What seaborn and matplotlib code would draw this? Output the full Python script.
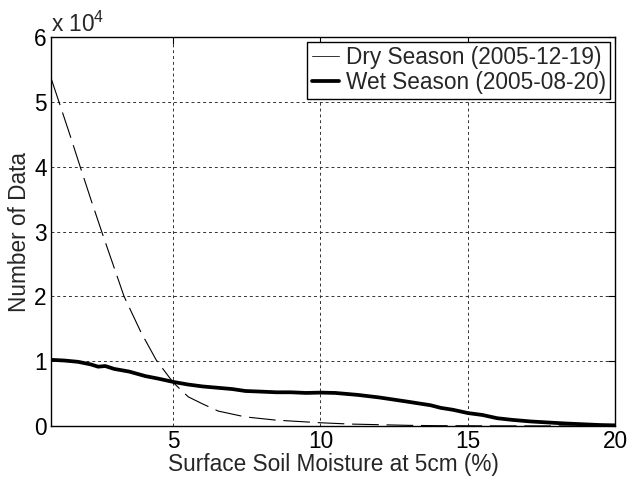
import matplotlib
matplotlib.use("Agg")
import matplotlib.pyplot as plt
from matplotlib.lines import Line2D
from matplotlib.ticker import FuncFormatter
import seaborn as sns
import pandas as pd

# ---- data ----
dry_x = [0.87, 1.12, 1.5, 1.84, 2.2, 2.57, 2.95, 3.33, 3.9, 4.42, 5.0, 5.51,
         6.0, 6.53, 7.45, 8.5, 10.0, 11.0, 12.0, 13.0, 14.0, 16.0, 18.0, 20.0]
dry_y = [53400, 50000, 44800, 40000, 35000, 30000, 25000, 20000, 14500, 10200,
         6700, 4500, 3400, 2300, 1400, 900, 500, 300, 200, 100, 50, 20, 10, 0]

wet_x = [0.87, 1.3, 1.77, 2.2, 2.45, 2.69, 3.0, 3.5, 4.05, 4.5, 5.0, 5.5, 6.0,
         6.5, 7.0, 7.45, 8.0, 8.5, 9.0, 9.5, 10.0, 10.5, 11.26, 12.0, 12.96,
         13.74, 14.08, 14.5, 15.0, 15.5, 16.0, 16.5, 17.14, 17.7, 18.27, 19.0,
         19.5, 20.0]
wet_y = [10200, 10100, 9900, 9500, 9150, 9250, 8800, 8400, 7700, 7300, 6800,
         6400, 6100, 5900, 5700, 5400, 5300, 5200, 5200, 5100, 5150, 5100, 4800,
         4400, 3750, 3200, 2800, 2500, 2000, 1700, 1200, 950, 700, 550, 400, 250,
         150, 100]

dry_label = "Dry Season (2005-12-19)"
wet_label = "Wet Season (2005-08-20)"
x_label = "Surface Soil Moisture at 5cm (%)"
y_label = "Number of Data"
y_ticks = [0, 10000, 20000, 30000, 40000, 50000, 60000]
x_ticks = [5, 10, 15, 20]

# ---- styling ----
sns.set_theme(style="white")
plt.rcParams["font.family"] = ["Liberation Sans", "DejaVu Sans"]
plt.rcParams["mathtext.fontset"] = "custom"
plt.rcParams["mathtext.rm"] = "Liberation Sans"
plt.rcParams["mathtext.it"] = "Liberation Sans"
FS = 16.3

fig = plt.figure(figsize=(6.28, 4.78), dpi=100)
ax = fig.add_axes([51 / 628, 1 - 426 / 478, (615 - 51) / 628, (426 - 37) / 478])

dry_df = pd.DataFrame({"x": dry_x, "y": dry_y})
wet_df = pd.DataFrame({"x": wet_x, "y": wet_y})

sns.lineplot(data=dry_df, x="x", y="y", ax=ax, color="black", lw=0.8,
             linestyle=(0, (24, 7)), estimator=None, sort=False)
sns.lineplot(data=wet_df, x="x", y="y", ax=ax, color="black", lw=2.7,
             estimator=None, sort=False)

ax.set_xlim(0.85, 20)
ax.set_ylim(0, 60000)
ax.set_xticks(x_ticks)
ax.set_yticks(y_ticks)
ax.yaxis.set_major_formatter(FuncFormatter(lambda v, p: f"{v / 1e4:g}"))
ax.tick_params(axis="both", labelsize=FS, direction="in", length=5, width=0.8,
               top=True, right=True, colors="black", pad=3)
ax.grid(True, color="#333333", linestyle=(0, (3, 3)), lw=0.7)

for s in ax.spines.values():
    s.set_visible(True)
    s.set_color("black")
    s.set_linewidth(1.0)

ax.set_xlabel(x_label, fontsize=FS, labelpad=0)
ax.set_ylabel(y_label, fontsize=FS, labelpad=2)

ax.text(0.0, 1.0, r"x 10$^{4}$", transform=ax.transAxes, fontsize=FS,
        ha="left", va="bottom")

handles = [Line2D([0], [0], color="#333333", lw=0.7),
           Line2D([0], [0], color="black", lw=2.7)]
leg = ax.legend(handles, [dry_label, wet_label], loc="upper right",
                fontsize=FS, frameon=True, fancybox=False, framealpha=1,
                edgecolor="black", borderaxespad=0.2, borderpad=0.2,
                handlelength=1.2, handletextpad=0.3, labelspacing=0.1)
leg.get_frame().set_linewidth(1.0)

fig.savefig("out.png", dpi=100)
